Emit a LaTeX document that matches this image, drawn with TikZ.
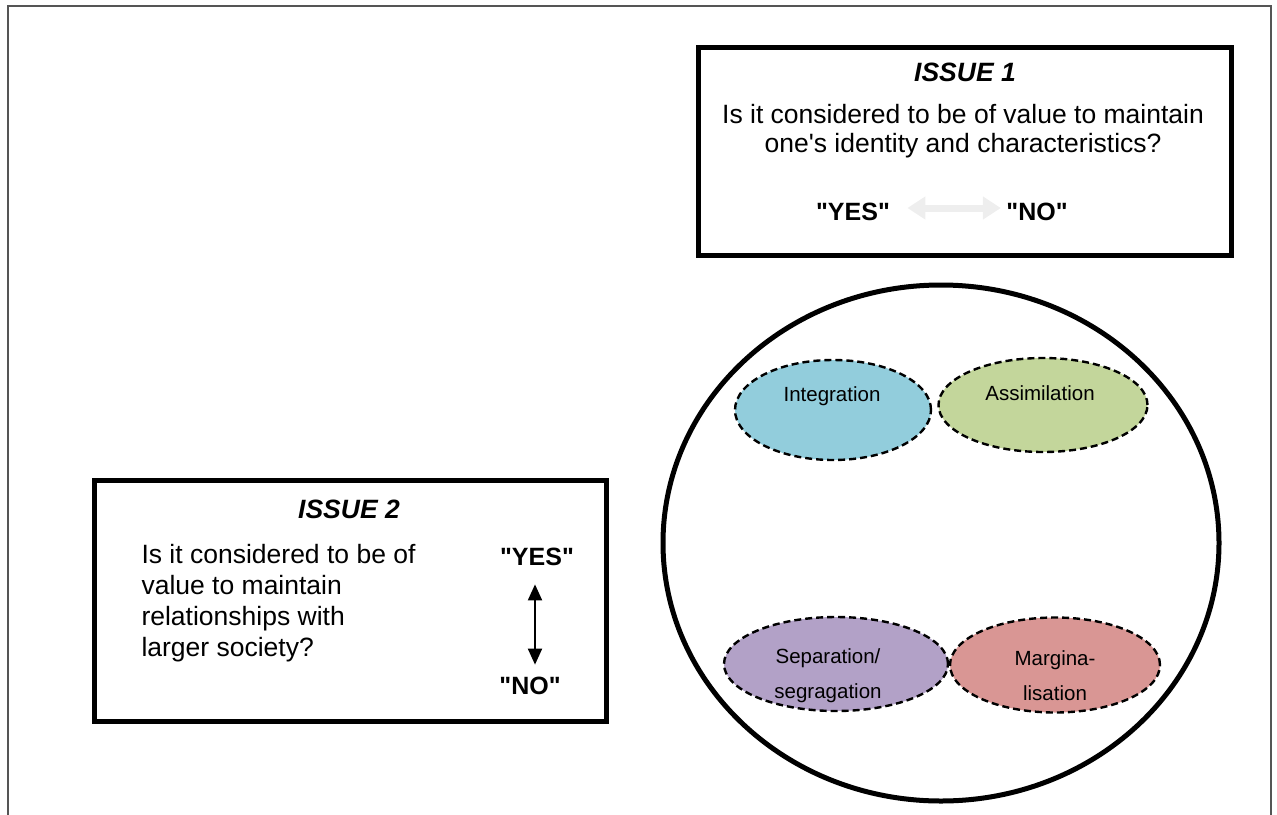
\documentclass[tikz,border=0pt]{standalone}
\usepackage{fontspec}
\setmainfont{Liberation Sans}
\usetikzlibrary{arrows.meta,shapes.geometric}
\definecolor{frame}{HTML}{555555}
\definecolor{cInt}{HTML}{92CDDC}
\definecolor{cAss}{HTML}{C3D69B}
\definecolor{cSep}{HTML}{B2A1C7}
\definecolor{cMar}{HTML}{D99694}
\definecolor{lightarrow}{HTML}{EEEEEE}
\newcommand{\qq}{\textquotedbl}
\tikzset{
  issuebox/.style={draw=black,line width=5pt},
  bigtext/.style={font=\fontsize{26.5}{29}\selectfont},
  titletext/.style={font=\fontsize{26.5}{29}\selectfont\bfseries\itshape},
  answer/.style={font=\fontsize{25}{29}\selectfont\bfseries},
  strat/.style={ellipse,draw=black,line width=2.4pt,dash pattern=on 7pt off 4pt,inner sep=0pt},
  strattext/.style={font=\fontsize{20.5}{35}\selectfont,align=center},
}
\begin{document}
\begin{tikzpicture}[x=1pt,y=-1pt]
\useasboundingbox (0,0) rectangle (1277,814);
% outer frame (bottom open)
\draw[frame,line width=2pt] (8,816) -- (8,6) -- (1271,6) -- (1271,816);

% ISSUE 1 box
\node[issuebox,minimum width=533pt,minimum height=208pt,anchor=north west] (box1) at (696,45) {};
\node[titletext] (t1) at (965,72) {ISSUE 1};
\node[bigtext,align=center] (q1) at (963,131.5) {Is it considered to be of value to maintain\\one\textquotesingle s identity and characteristics?};
\node[answer] (yes1) at (853,212) {\qq YES\qq};
\node[answer] (no1) at (1037,212) {\qq NO\qq};
\draw[lightarrow,line width=7pt,{Triangle[width=22pt,length=18pt]}-{Triangle[width=22pt,length=18pt]}]
  ([xshift=14pt,yshift=4pt]yes1.east) -- ([xshift=-2pt,yshift=4pt]no1.west);

% ISSUE 2 box
\node[issuebox,minimum width=512pt,minimum height=241pt,anchor=north west] (box2) at (92,478) {};
\node[titletext] (t2) at (349,509) {ISSUE 2};
\node[bigtext,align=left,anchor=west,font=\fontsize{26.5}{31}\selectfont] (q2) at (138,603.5) {Is it considered to be of\\value to maintain\\relationships with\\larger society?};
\node[answer] (yes2) at (537,557) {\qq YES\qq};
\node[answer] (no2) at (530,686) {\qq NO\qq};
\draw[black,line width=2pt,{Triangle[width=14pt,length=16pt]}-{Triangle[width=14pt,length=16pt]}]
  ([xshift=-2pt,yshift=-15pt]yes2.south) -- ([xshift=5pt,yshift=9pt]no2.north);

% circle
\node[draw=black,line width=5pt,ellipse,minimum width=556pt,minimum height=516pt,inner sep=0pt] (circ) at (941,543) {};

% strategies
\node[strat,fill=cInt,minimum width=196pt,minimum height=100pt] (int) at (833,410) {};
\node[strattext] at (832,396) {Integration};
\node[strat,fill=cAss,minimum width=209pt,minimum height=94pt] (ass) at (1043,405) {};
\node[strattext] at (1040,393) {Assimilation};
\node[strat,fill=cSep,minimum width=224pt,minimum height=94pt] (sep) at (836,664) {};
\node[strattext] at (828,676) {Separation/\\segragation};
\node[strat,fill=cMar,minimum width=210pt,minimum height=95pt] (mar) at (1055,665) {};
\node[strattext] at (1055,676) {Margina-\\lisation};
\end{tikzpicture}
\end{document}
